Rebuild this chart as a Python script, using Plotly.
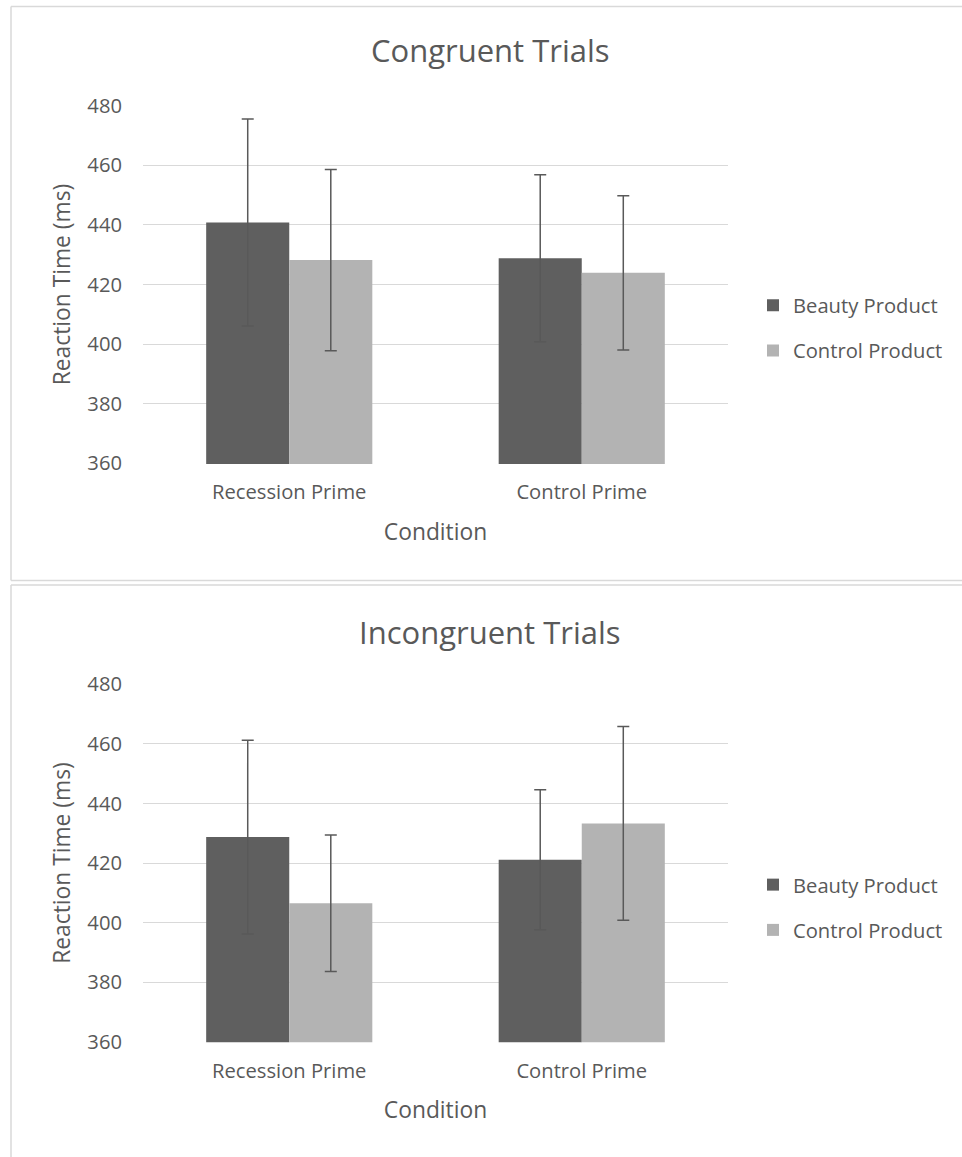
import plotly.graph_objects as go

# ---- data ----
categories = ["Recession Prime", "Control Prime"]
series_names = ["Beauty Product", "Control Product"]

congruent_beauty = [440.8, 428.8]
congruent_beauty_err = [34.7, 28.0]
congruent_control = [428.2, 423.9]
congruent_control_err = [30.4, 25.9]

incongruent_beauty = [428.7, 421.1]
incongruent_beauty_err = [32.5, 23.5]
incongruent_control = [406.5, 433.3]
incongruent_control_err = [22.9, 32.5]

y_ticks = [360, 380, 400, 420, 440, 460, 480]

# ---- style ----
W, H = 962, 1157
FONT = "Open Sans"
TXT = "#595959"
DARK = "#5f5f5f"
LIGHT = "#b3b3b3"
GRID = "#d9d9d9"
TICK_SIZE = 20.2
AXT_SIZE = 22.8
TITLE_SIZE = 31


def fx(px):
    return px / W


def fy(py):
    return 1 - py / H


fig = go.Figure()

panels = [
    ("x", "y", "legend", congruent_beauty, congruent_beauty_err, congruent_control, congruent_control_err),
    ("x2", "y2", "legend2", incongruent_beauty, incongruent_beauty_err, incongruent_control, incongruent_control_err),
]
for xa, ya, lg, b, be, c, ce in panels:
    for name, vals, errs, col in [(series_names[0], b, be, DARK), (series_names[1], c, ce, LIGHT)]:
        fig.add_trace(go.Bar(
            x=categories, y=vals, name=name, marker=dict(color=col, line=dict(width=0)),
            error_y=dict(type="data", array=errs, visible=True, color="#595959", thickness=1.5, width=6),
            xaxis=xa, yaxis=ya, legend=lg, legendgroup=lg + name,
        ))


def xaxis_cfg(anchor):
    return dict(domain=[fx(143), fx(728)], anchor=anchor, showgrid=False, ticks="", automargin=False,
                tickfont=dict(family=FONT, size=TICK_SIZE, color=TXT), ticklabelstandoff=14,
                title=dict(text="Condition", font=dict(family=FONT, size=AXT_SIZE, color=TXT), standoff=19))


def yaxis_cfg(anchor, top, bottom):
    return dict(domain=[fy(bottom), fy(top)], anchor=anchor, range=[359.8, 480.2], tickvals=y_ticks,
                showgrid=True, gridcolor=GRID, gridwidth=1.3, zeroline=False, showline=False, ticks="",
                automargin=False,
                tickfont=dict(family=FONT, size=TICK_SIZE, color=TXT), ticklabelstandoff=20,
                title=dict(text="Reaction Time (ms)", font=dict(family=FONT, size=AXT_SIZE, color=TXT), standoff=10))


def hline(y, x0, x1):
    return dict(type="line", xref="paper", yref="paper", x0=fx(x0), x1=fx(x1), y0=fy(y), y1=fy(y),
                line=dict(color=GRID, width=1.5), layer="below")


def vline(x, y0, y1):
    return dict(type="line", xref="paper", yref="paper", x0=fx(x), x1=fx(x), y0=fy(y0), y1=fy(y1),
                line=dict(color=GRID, width=1.5), layer="below")


fig.update_layout(
    width=W, height=H, margin=dict(l=0, r=0, t=0, b=0, pad=0), autosize=False,
    paper_bgcolor="white", plot_bgcolor="white",
    barmode="group", bargap=0.432, bargroupgap=0,
    font=dict(family=FONT, color=TXT),
    showlegend=True,
    xaxis=xaxis_cfg("y"),
    yaxis=yaxis_cfg("x", 105, 464),
    xaxis2=xaxis_cfg("y2"),
    yaxis2=yaxis_cfg("x2", 683.7, 1042.3),
    legend=dict(x=fx(753), xanchor="left", y=fy(328), yanchor="middle",
                font=dict(family=FONT, size=TICK_SIZE, color=TXT), tracegroupgap=16,
                bgcolor="rgba(0,0,0,0)"),
    legend2=dict(x=fx(753), xanchor="left", y=fy(907.5), yanchor="middle",
                 font=dict(family=FONT, size=TICK_SIZE, color=TXT), tracegroupgap=16,
                 bgcolor="rgba(0,0,0,0)"),
    annotations=[
        dict(text="Congruent Trials", x=fx(490), y=fy(50), xref="paper", yref="paper",
             showarrow=False, font=dict(family=FONT, size=TITLE_SIZE, color=TXT), xanchor="center", yanchor="middle"),
        dict(text="Incongruent Trials", x=fx(490), y=fy(632), xref="paper", yref="paper",
             showarrow=False, font=dict(family=FONT, size=TITLE_SIZE, color=TXT), xanchor="center", yanchor="middle"),
    ],
    shapes=[
        # top panel frame (open on the right)
        hline(6.5, 11, 962), hline(580.5, 11, 962), vline(11, 6.5, 580.5),
        # bottom panel frame (open on the right and bottom)
        hline(585, 11, 962), vline(11, 585, 1157),
    ],
)

fig.write_html("out.html", config={"displayModeBar": False},
               post_script="document.body.style.margin='0';document.body.style.overflow='hidden';")
